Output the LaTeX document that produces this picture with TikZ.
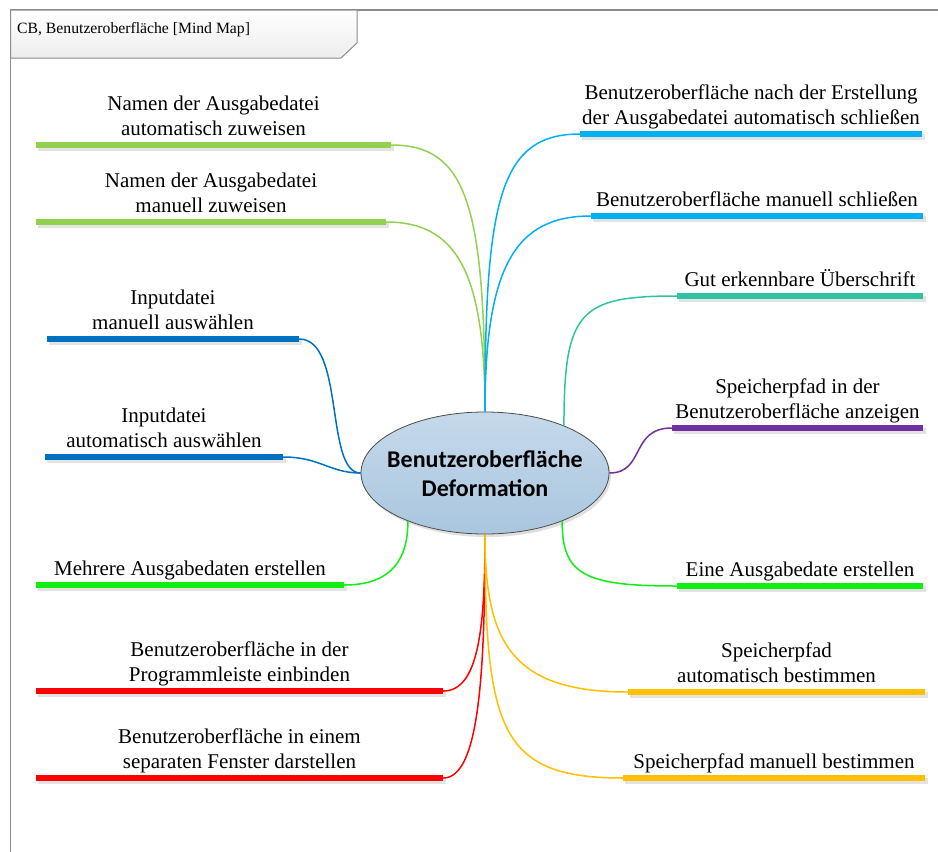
\documentclass[tikz,border=0pt]{standalone}
\usepackage{fontspec}
\setmainfont{Liberation Serif}
\newfontfamily\topicfont{Liberation Serif}
\newfontfamily\hubfont{Carlito}
\usetikzlibrary{shapes.geometric,shadows}

\definecolor{lgreen}{HTML}{92D050}
\definecolor{skyblue}{HTML}{00B0F0}
\definecolor{darkblue}{HTML}{0070C0}
\definecolor{teal}{HTML}{2FC3A2}
\definecolor{purple}{HTML}{7030A0}
\definecolor{bgreen}{HTML}{11EE11}
\definecolor{red}{HTML}{FF0000}
\definecolor{orange}{HTML}{FFC000}
\definecolor{framegray}{HTML}{8C8C8C}
\definecolor{hubtop}{HTML}{C6D9EB}
\definecolor{hubbottom}{HTML}{A9C6DE}

\begin{document}
\begin{tikzpicture}[x=1pt,y=-1pt,
  topic/.style={inner sep=0pt, text depth=9.5pt, anchor=south, align=center,
    font=\topicfont\fontsize{21}{25}\selectfont},
  bar/.style={line width=5.5pt},
  barshadow/.style={line width=5.5pt, draw=black!11},
  link/.style={line width=1.5pt},
  hub/.style={ellipse, inner sep=0pt, minimum width=248pt, minimum height=122pt,
    top color=hubtop, bottom color=hubbottom, draw=black!70, line width=0.8pt,
    drop shadow={shadow xshift=2pt, shadow yshift=-3pt, fill=black, opacity=0.12}},
  hubtext/.style={inner sep=0pt, align=center,
    font=\hubfont\bfseries\fontsize{24}{29.5}\selectfont},
  frameline/.style={draw=framegray, line width=1.2pt}]

\useasboundingbox (0,0) rectangle (938,852);

% diagram frame with its title tab
\draw[frameline] (10.5,852) -- (10.5,10) -- (938,10);
\shade[top color=white, bottom color=black!7, draw=framegray, line width=1pt]
  (10.5,10) -- (357,10) -- (357,43) -- (341,58) -- (10.5,58) -- cycle;
\node[anchor=base west, inner sep=0pt, font=\topicfont\fontsize{15.7}{18}\selectfont]
  (title) at (17,33) {CB, Benutzeroberfläche [Mind Map]};

% central topic
\node[hub] (c) at (485,473) {};
\node[hubtext] (ct) at (485,473.5) {Benutzeroberfläche\\Deformation};

% left branches
\node[topic, minimum width=355pt] (L1) at (213.5,145) {Namen der Ausgabedatei\\automatisch zuweisen};
\node[topic, minimum width=350pt] (L2) at (211,222) {Namen der Ausgabedatei\\manuell zuweisen};
\node[topic, minimum width=252pt] (L3) at (173,339) {Inputdatei\\manuell auswählen};
\node[topic, minimum width=238pt] (L4) at (164,457) {Inputdatei\\automatisch auswählen};
\node[topic, minimum width=308pt] (L5) at (190,585) {Mehrere Ausgabedaten erstellen};
\node[topic, minimum width=407pt] (L6) at (239.5,691) {Benutzeroberfläche in der\\Programmleiste einbinden};
\node[topic, minimum width=407pt] (L7) at (239.5,778) {Benutzeroberfläche in einem\\separaten Fenster darstellen};

% right branches
\node[topic, minimum width=342pt] (R1) at (751,134) {Benutzeroberfläche nach der Erstellung\\der Ausgabedatei automatisch schließen};
\node[topic, minimum width=332pt] (R2) at (757,216) {Benutzeroberfläche manuell schließen};
\node[topic, minimum width=246pt] (R3) at (800,296) {Gut erkennbare Überschrift};
\node[topic, minimum width=251pt] (R4) at (797.5,428) {Speicherpfad in der\\Benutzeroberfläche anzeigen};
\node[topic, minimum width=246pt] (R5) at (800,586) {Eine Ausgabedate erstellen};
\node[topic, minimum width=297pt] (R6) at (776.5,692) {Speicherpfad\\automatisch bestimmen};
\node[topic, minimum width=302pt] (R7) at (774,778) {Speicherpfad manuell bestimmen};

% underline bars with their soft shadows
\foreach \n/\col in {L1/lgreen, L2/lgreen, L3/darkblue, L4/darkblue, L5/bgreen,
                     L6/red, L7/red, R1/skyblue, R2/skyblue, R3/teal, R4/purple,
                     R5/bgreen, R6/orange, R7/orange} {
  \draw[barshadow] ([shift={(2.5,3)}]\n.south west) -- ([shift={(2.5,3)}]\n.south east);
  \draw[bar, draw=\col] (\n.south west) -- (\n.south east);
}

% connectors from the central topic to each branch
\draw[link, lgreen]   (L1.south east) .. controls +(75,0)  and +(0,-208) .. (c.north);
\draw[link, lgreen]   (L2.south east) .. controls +(70,0)  and +(0,-140) .. (c.north);
\draw[link, skyblue]  (R1.south west) .. controls +(-80,0) and +(0,-212) .. (c.north);
\draw[link, skyblue]  (R2.south west) .. controls +(-75,0) and +(0,-146) .. (c.north);
\draw[link, teal]     (R3.south west) .. controls +(-97,0) and +(0,-115) .. (c.31);
\draw[link, purple]   (R4.south west) .. controls +(-42,0) and +(36,0)   .. (c.east);
\draw[link, darkblue] (L3.south east) .. controls +(46,0)  and +(-36,0)  .. (c.west);
\draw[link, darkblue] (L4.south east) .. controls +(37,0)  and +(-31,0)  .. (c.west);
\draw[link, bgreen]   (L5.south east) .. controls +(51,0)  and +(0,34)   .. (c.212);
\draw[link, bgreen]   (R5.south west) .. controls +(-92,0) and +(0,54)   .. (c.328);
\draw[link, red]      (L6.south east) .. controls +(35,0)  and +(0,96)   .. (c.south);
\draw[link, red]      (L7.south east) .. controls +(35,0)  and +(0,146)  .. (c.south);
\draw[link, orange]   (R6.south west) .. controls +(-118,0) and +(0,106) .. (c.south);
\draw[link, orange]   (R7.south west) .. controls +(-123,0) and +(0,196) .. (c.south);

\end{tikzpicture}
\end{document}
